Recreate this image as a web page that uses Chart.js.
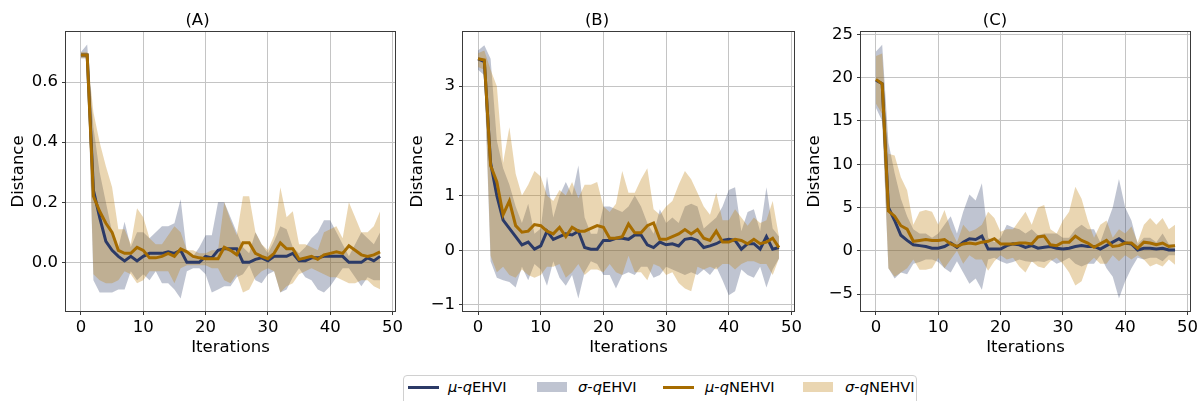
<!DOCTYPE html>
<html>
<head>
<meta charset="utf-8">
<script src="https://cdn.jsdelivr.net/npm/chart.js@4/dist/chart.umd.min.js"></script>
<style>
  html, body { margin: 0; padding: 0; background: #fff; width: 1202px; height: 401px; overflow: hidden; }
  canvas { position: absolute; }
  .lg { position: absolute; font-family: "DejaVu Sans", sans-serif; font-size: 14.7px; line-height: 18px; color: #000; white-space: nowrap; }
  #legend { position: absolute; left: 403px; top: 375px; width: 512px; height: 30px; border: 1px solid #d0d0d0; border-radius: 4px; background: #fff; box-sizing: content-box; }
</style>
</head>
<body>
<canvas id="cA" style="left:0px;top:0px;"></canvas>
<canvas id="cB" style="left:400px;top:0px;"></canvas>
<canvas id="cC" style="left:800px;top:0px;"></canvas>

<div id="legend"></div>
<div style="position:absolute;left:408px;top:386px;width:31px;height:3px;background:#2b3a67;"></div>
<span class="lg" style="left:448px;top:378px;"><i>μ</i>-<i>q</i>EHVI</span>
<div style="position:absolute;left:537px;top:382px;width:30px;height:10px;background:rgba(43,58,103,0.3);"></div>
<span class="lg" style="left:578px;top:378px;"><i>σ</i>-<i>q</i>EHVI</span>
<div style="position:absolute;left:663px;top:386px;width:31px;height:3px;background:#a66c00;"></div>
<span class="lg" style="left:705px;top:378px;"><i>μ</i>-<i>q</i>NEHVI</span>
<div style="position:absolute;left:803px;top:382px;width:30px;height:10px;background:rgba(190,130,20,0.33);"></div>
<span class="lg" style="left:845px;top:378px;"><i>σ</i>-<i>q</i>NEHVI</span>

<script>
// ---------------- DATA ----------------
const iterations = [0,1,2,3,4,5,6,7,8,9,10,11,12,13,14,15,16,17,18,19,20,21,22,23,24,25,26,27,28,29,30,31,32,33,34,35,36,37,38,39,40,41,42,43,44,45,46,47,48];

const xTickValues = [0, 10, 20, 30, 40, 50];
const xTickLabels = ['0', '10', '20', '30', '40', '50'];

const panelTitles = ['(A)', '(B)', '(C)'];

// Panel A
const A_ehviMean  = [0.69,0.69,0.24,0.15,0.07,0.04,0.02,0.005,0.02,0.005, 0.02,0.03,0.03,0.03,0.035,0.03,0.04,0.0,0.0,0.0, 0.02,0.015,0.04,0.045,0.045,0.045,0.0,0.0,0.01,0.015, 0.005,0.02,0.02,0.02,0.03,0.005,0.005,0.015,0.015,0.02, 0.02,0.02,0.02,0.0,0.0,0.0,0.015,0.005,0.02];
const A_ehviUpper = [0.70,0.725,0.45,0.30,0.20,0.10,0.05,0.135,0.05,0.10, 0.10,0.08,0.10,0.12,0.12,0.13,0.21,0.03,0.02,0.05, 0.09,0.09,0.20,0.20,0.15,0.10,0.05,0.03,0.10,0.06, 0.03,0.07,0.12,0.11,0.05,0.03,0.05,0.08,0.10,0.14, 0.14,0.10,0.06,0.02,0.06,0.10,0.08,0.06,0.10];
const A_ehviLower = [0.68,0.68,-0.06,-0.10,-0.10,-0.10,-0.09,-0.09,-0.03,-0.06, -0.04,-0.06,-0.03,-0.07,-0.07,-0.09,-0.12,-0.03,-0.02,-0.02, -0.04,-0.10,-0.09,-0.08,-0.08,-0.05,-0.04,-0.01,-0.06,-0.07, -0.04,-0.03,-0.10,-0.09,-0.05,-0.02,-0.05,-0.06,-0.09,-0.10, -0.08,-0.05,-0.02,-0.02,-0.05,-0.08,-0.05,-0.06,-0.06];
const A_nehviMean  = [0.69,0.69,0.22,0.17,0.13,0.10,0.04,0.03,0.03,0.05, 0.04,0.015,0.015,0.02,0.03,0.02,0.045,0.035,0.02,0.015, 0.012,0.012,0.012,0.05,0.04,0.025,0.065,0.065,0.03,0.02, 0.012,0.03,0.065,0.045,0.045,0.01,0.015,0.02,0.01,0.025, 0.03,0.035,0.03,0.055,0.04,0.025,0.02,0.025,0.035];
const A_nehviUpper = [0.70,0.70,0.50,0.40,0.32,0.25,0.11,0.11,0.06,0.18, 0.15,0.08,0.06,0.06,0.09,0.12,0.10,0.04,0.04,0.03, 0.03,0.04,0.04,0.20,0.14,0.09,0.22,0.22,0.10,0.06, 0.04,0.09,0.25,0.15,0.17,0.06,0.06,0.05,0.04,0.10, 0.11,0.12,0.08,0.20,0.15,0.10,0.10,0.12,0.17];
const A_nehviLower = [0.68,0.68,-0.04,-0.06,-0.07,-0.07,-0.06,-0.03,-0.04,-0.07, -0.06,-0.03,-0.03,-0.03,-0.03,-0.07,-0.02,-0.01,-0.01,-0.01, -0.01,-0.02,-0.02,-0.06,-0.07,-0.04,-0.10,-0.09,-0.05,-0.03, -0.02,-0.03,-0.10,-0.08,-0.07,-0.04,-0.03,-0.02,-0.03,-0.04, -0.05,-0.05,-0.06,-0.07,-0.07,-0.06,-0.06,-0.08,-0.09];
const A_yTickValues = [0, 0.2, 0.4, 0.6];
const A_yTickLabels = ['0.0', '0.2', '0.4', '0.6'];

// Panel B
const B_ehviMean  = [3.5,3.45,1.6,1.0,0.55,0.4,0.25,0.1,0.15,0.02, 0.08,0.35,0.2,0.25,0.3,0.28,0.35,0.05,0.02,0.02, 0.18,0.18,0.22,0.22,0.2,0.28,0.28,0.1,0.05,0.15, 0.1,0.12,0.08,0.2,0.22,0.18,0.05,0.08,0.12,0.18, 0.2,0.18,0.02,0.12,0.12,0.02,0.25,0.02,0.05];
const B_ehviUpper = [3.65,3.75,3.5,2.0,1.5,1.2,0.8,0.5,0.85,0.3, 0.4,1.35,0.6,1.0,1.25,1.0,1.55,0.6,0.3,0.3, 0.8,0.8,0.75,0.7,0.8,1.0,0.8,0.5,0.3,0.75, 0.5,0.6,0.5,0.8,0.85,0.8,0.4,0.5,0.6,0.8, 1.1,1.15,0.35,0.7,0.75,0.35,1.15,0.4,0.25];
const B_ehviLower = [3.3,3.2,-0.2,-0.5,-0.55,-0.58,-0.68,-0.3,-0.55,-0.25, -0.35,-0.65,-0.2,-0.5,-0.65,-0.45,-0.88,-0.4,-0.2,-0.25, -0.45,-0.45,-0.7,-0.45,-0.4,-0.45,-0.3,-0.3,-0.5,-0.45, -0.3,-0.35,-0.4,-0.45,-0.4,-0.45,-0.35,-0.45,-0.3,-0.55, -0.82,-0.75,-0.35,-0.45,-0.5,-0.3,-0.68,-0.35,-0.15];
const B_nehviMean  = [3.5,3.48,1.55,1.25,0.65,0.9,0.45,0.33,0.35,0.47, 0.45,0.35,0.3,0.42,0.25,0.42,0.35,0.35,0.4,0.45, 0.42,0.22,0.22,0.25,0.48,0.32,0.32,0.45,0.5,0.2, 0.2,0.25,0.3,0.38,0.3,0.38,0.22,0.18,0.35,0.15, 0.15,0.2,0.18,0.12,0.2,0.12,0.15,0.22,0.05];
const B_nehviUpper = [3.6,3.65,3.3,3.0,1.6,2.25,1.4,1.0,1.2,1.45, 1.35,1.0,0.9,1.1,1.0,1.25,0.95,1.2,1.2,1.25, 0.8,0.7,0.85,1.45,1.05,1.05,1.3,1.5,0.75,0.65, 0.8,0.9,1.2,1.45,1.3,1.05,0.8,0.65,1.05,0.55, 0.55,0.75,0.6,0.45,0.6,0.5,0.55,0.9,0.25];
const B_nehviLower = [3.35,3.3,-0.1,-0.4,-0.3,-0.45,-0.5,-0.35,-0.45,-0.5, -0.45,-0.3,-0.3,-0.25,-0.5,-0.4,-0.25,-0.45,-0.35,-0.35, -0.4,-0.25,-0.4,-0.45,-0.1,-0.4,-0.4,-0.55,-0.25,-0.3, -0.45,-0.4,-0.6,-0.7,-0.75,-0.3,-0.35,-0.3,-0.35,-0.25, -0.25,-0.35,-0.25,-0.2,-0.2,-0.25,-0.25,-0.45,-0.15];
const B_yTickValues = [-1, 0, 1, 2, 3];
const B_yTickLabels = ['\u22121', '0', '1', '2', '3'];

// Panel C
const C_ehviMean  = [19.7,19.3,5.0,3.5,1.8,1.2,0.7,0.6,0.5,0.3, 0.3,0.5,0.9,0.4,1.0,1.4,1.3,1.7,0.2,0.2, 0.2,0.6,0.8,0.7,0.4,0.6,0.3,0.4,0.5,0.3, 0.2,0.3,0.5,0.6,0.5,0.5,0.2,0.6,1.0,1.4, 0.9,0.8,0.1,0.3,0.3,0.2,0.3,0.1,0.1];
const C_ehviUpper = [23.0,23.8,12.5,9.0,6.0,4.0,2.5,2.0,2.0,1.5, 2.0,3.0,4.0,2.0,4.5,6.5,5.8,7.8,1.5,1.0, 1.5,3.0,2.7,2.5,2.0,2.5,1.8,2.0,2.0,2.0, 1.5,1.5,2.5,3.0,2.5,2.5,1.0,3.0,5.0,8.3, 5.0,3.5,0.8,1.5,1.5,1.0,2.0,0.8,0.8];
const C_ehviLower = [16.5,15.0,-2.0,-3.2,-2.5,-2.7,-1.5,-1.3,-1.0,-1.0, -1.3,-2.0,-2.5,-1.2,-2.5,-3.8,-3.2,-4.5,-1.0,-0.8, -1.2,-1.5,-1.3,-1.0,-1.2,-1.3,-1.2,-1.3,-1.0,-1.5, -1.2,-0.8,-1.5,-1.8,-1.5,-1.5,-0.5,-2.0,-3.0,-5.5, -3.5,-2.0,-0.8,-1.0,-0.8,-0.8,-1.2,-0.5,-0.5];
const C_nehviMean  = [19.8,19.3,4.6,4.0,2.9,2.5,1.1,1.2,1.3,1.2, 1.2,1.3,0.8,0.5,0.8,0.9,0.8,1.0,1.1,1.4, 0.8,0.8,0.8,0.9,0.9,0.8,1.6,1.7,0.7,0.6, 1.0,1.0,1.7,1.2,0.9,0.4,0.8,1.2,0.5,0.6, 0.9,0.9,0.3,1.0,0.9,0.7,0.9,0.5,0.6];
const C_nehviUpper = [22.5,22.8,11.2,11.0,8.5,7.0,3.0,4.5,4.7,4.5, 3.0,4.7,2.5,1.0,3.0,2.2,2.5,3.0,4.5,3.8, 2.2,2.5,2.5,3.5,4.5,3.0,5.0,5.3,2.5,2.0, 3.5,4.5,7.4,6.0,3.5,1.5,3.0,3.5,1.5,2.5, 2.0,2.8,1.0,3.0,3.8,3.0,3.8,2.5,3.0];
const C_nehviLower = [17.0,15.8,-2.0,-3.0,-2.5,-2.0,-1.0,-2.2,-2.2,-2.0, -0.8,-2.0,-1.0,0.0,-1.5,-0.5,-1.0,-1.0,-2.3,-1.2, -0.5,-1.0,-0.8,-1.8,-2.5,-1.2,-1.8,-2.0,-1.2,-0.8, -1.5,-2.5,-4.0,-3.5,-1.5,-0.8,-1.5,-1.5,-0.5,-1.2, -0.5,-1.0,-0.5,-1.0,-1.8,-1.5,-1.8,-1.0,-1.6];
const C_yTickValues = [-5, 0, 5, 10, 15, 20, 25];
const C_yTickLabels = ['\u22125', '0', '5', '10', '15', '20', '25'];

// ---------------- STYLE ----------------
const FONT = '"DejaVu Sans", sans-serif';
const FS = 16.5;
const EHVI_LINE = '#2b3a67';
const EHVI_FILL = 'rgba(43,58,103,0.3)';
const NEHVI_LINE = '#a66c00';
const NEHVI_FILL = 'rgba(190,130,20,0.33)';

const framePlugin = {
  id: 'frame',
  afterDatasetsDraw(chart) {
    const { ctx, chartArea: a } = chart;
    ctx.save();
    ctx.strokeStyle = '#3a3a3a';
    ctx.lineWidth = 1;
    ctx.strokeRect(Math.round(a.left) - 0.5, Math.round(a.top) - 0.5, Math.round(a.right - a.left) + 1, Math.round(a.bottom - a.top) + 1);
    ctx.restore();
  }
};

function pts(arr) { return iterations.map((x, i) => ({ x: x, y: arr[i] })); }

function makePanel(id, p) {
  const cv = document.getElementById(id);
  const totalW = p.yw * 2 + p.plotW;
  const totalH = 32 + p.plotH + p.xh;
  cv.width = totalW; cv.height = totalH;
  cv.style.width = totalW + 'px'; cv.style.height = totalH + 'px';
  const bandLine = { borderWidth: 0, borderColor: 'transparent', pointRadius: 0, tension: 0 };
  new Chart(cv.getContext('2d'), {
    type: 'line',
    data: {
      datasets: [
        { label: 'mu-qNEHVI', data: pts(p.nm), borderColor: NEHVI_LINE, borderWidth: 3, pointRadius: 0, fill: false, tension: 0 },
        { label: 'mu-qEHVI', data: pts(p.em), borderColor: EHVI_LINE, borderWidth: 3, pointRadius: 0, fill: false, tension: 0 },
        Object.assign({ label: 'nehviUpper', data: pts(p.nu), fill: '+1', backgroundColor: NEHVI_FILL }, bandLine),
        Object.assign({ label: 'nehviLower', data: pts(p.nl), fill: false }, bandLine),
        Object.assign({ label: 'ehviUpper', data: pts(p.eu), fill: '+1', backgroundColor: EHVI_FILL }, bandLine),
        Object.assign({ label: 'ehviLower', data: pts(p.el), fill: false }, bandLine)
      ]
    },
    options: {
      responsive: false,
      animation: false,
      events: [],
      devicePixelRatio: 1,
      layout: { padding: { left: 0, right: p.yw, top: 0, bottom: 0 } },
      plugins: {
        legend: { display: false },
        tooltip: { enabled: false },
        filler: { drawTime: 'beforeDatasetsDraw' },
        title: {
          display: true, text: p.title, color: '#000',
          font: { family: FONT, size: FS, weight: 'normal' },
          padding: { top: 10.6, bottom: 1.6 }
        }
      },
      scales: {
        x: {
          type: 'linear', min: -2.4, max: 50.4,
          afterBuildTicks: s => { s.ticks = xTickValues.map(v => ({ value: v })); },
          afterFit: s => { s.height = p.xh; },
          ticks: { callback: (v, i) => xTickLabels[i], color: '#000', font: { family: FONT, size: FS }, padding: 3, maxRotation: 0, autoSkip: false },
          grid: { color: '#c4c4c4', lineWidth: 1, tickColor: '#3a3a3a', tickLength: 4, drawTicks: true },
          border: { display: false },
          title: { display: true, text: 'Iterations', color: '#000', font: { family: FONT, size: FS }, padding: { top: 0, bottom: 1.1 } }
        },
        y: {
          type: 'linear', min: p.ymin, max: p.ymax,
          afterBuildTicks: s => { s.ticks = p.ytv.map(v => ({ value: v })); },
          afterFit: s => { s.width = p.yw; },
          ticks: { callback: (v, i) => p.ytl[i], color: '#000', font: { family: FONT, size: FS }, padding: 4, autoSkip: false },
          grid: { color: '#c4c4c4', lineWidth: 1, tickColor: '#3a3a3a', tickLength: 4, drawTicks: true },
          border: { display: false },
          title: { display: true, text: 'Distance', color: '#000', font: { family: FONT, size: FS }, padding: { top: p.ytp, bottom: 0 } }
        }
      }
    },
    plugins: [framePlugin]
  });
}

makePanel('cA', { title: panelTitles[0], yw: 66, plotW: 329, plotH: 279, xh: 48, ymin: -0.162, ymax: 0.767, ytv: A_yTickValues, ytl: A_yTickLabels, ytp: 8.8,
  em: A_ehviMean, eu: A_ehviUpper, el: A_ehviLower, nm: A_nehviMean, nu: A_nehviUpper, nl: A_nehviLower });
makePanel('cB', { title: panelTitles[1], yw: 63, plotW: 331, plotH: 279, xh: 48, ymin: -1.11, ymax: 3.99, ytv: B_yTickValues, ytl: B_yTickLabels, ytp: 8.1,
  em: B_ehviMean, eu: B_ehviUpper, el: B_ehviLower, nm: B_nehviMean, nu: B_nehviUpper, nl: B_nehviLower });
makePanel('cC', { title: panelTitles[2], yw: 61, plotW: 329, plotH: 279, xh: 48, ymin: -6.95, ymax: 25.27, ytv: C_yTickValues, ytl: C_yTickLabels, ytp: 5.1,
  em: C_ehviMean, eu: C_ehviUpper, el: C_ehviLower, nm: C_nehviMean, nu: C_nehviUpper, nl: C_nehviLower });
</script>
</body>
</html>
